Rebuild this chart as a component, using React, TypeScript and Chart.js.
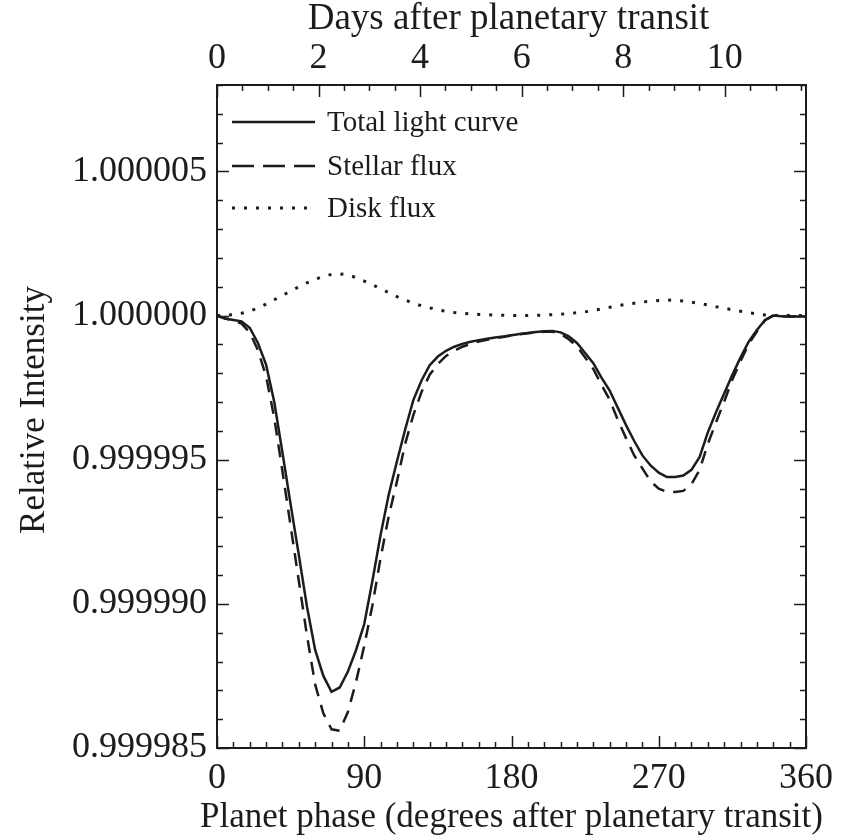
import React, { useEffect, useRef } from "react";
import { Chart, registerables } from "chart.js";

Chart.register(...registerables);

// ---- Data (phase in degrees; flux as offsets from 1 in units of 1e-6) ----
const phaseDeg = [
  0, 5, 10, 15, 20, 25, 30, 35, 40, 45, 50, 55, 60, 65, 70, 75, 80, 85, 90, 95,
  100, 105, 110, 115, 120, 125, 130, 135, 140, 145, 150, 155, 160, 165, 170, 175,
  180, 185, 190, 195, 200, 205, 210, 215, 220, 225, 230, 235, 240, 245, 250, 255,
  260, 265, 270, 275, 280, 285, 290, 295, 300, 305, 310, 315, 320, 325, 330, 335,
  340, 345, 350, 355, 360,
];

const totalLightPpm = [
  0.0, -0.1, -0.15, -0.2, -0.42, -0.95, -1.7, -3.0, -4.75, -6.55, -8.3, -10.1,
  -11.6, -12.5, -13.05, -12.9, -12.35, -11.6, -10.7, -9.2, -7.6, -6.2, -5.05,
  -3.95, -2.93, -2.25, -1.72, -1.42, -1.22, -1.08, -0.98, -0.91, -0.85, -0.8,
  -0.76, -0.72, -0.68, -0.64, -0.6, -0.57, -0.54, -0.53, -0.58, -0.72, -0.95,
  -1.3, -1.65, -2.15, -2.6, -3.2, -3.8, -4.35, -4.85, -5.2, -5.45, -5.6, -5.6,
  -5.55, -5.35, -4.9, -4.05, -3.35, -2.7, -2.05, -1.45, -0.9, -0.5, -0.15, 0.0,
  -0.02, -0.03, -0.03, -0.03,
];

const stellarFluxPpm = [
  0.0, -0.1, -0.17, -0.28, -0.58, -1.2, -2.1, -3.55, -5.4, -7.3, -9.2, -11.1,
  -12.8, -13.8, -14.35, -14.4, -13.75, -12.7, -11.45, -10.05, -8.4, -6.95, -5.75,
  -4.45, -3.45, -2.65, -2.05, -1.68, -1.4, -1.22, -1.08, -0.98, -0.9, -0.84,
  -0.78, -0.74, -0.69, -0.65, -0.61, -0.58, -0.56, -0.56, -0.64, -0.82, -1.07,
  -1.45, -1.85, -2.4, -2.92, -3.62, -4.25, -4.85, -5.3, -5.75, -6.0, -6.12,
  -6.12, -6.08, -5.85, -5.35, -4.45, -3.7, -2.98, -2.22, -1.58, -0.98, -0.55,
  -0.16, 0.0, -0.02, -0.03, -0.03, -0.03,
];

const diskFluxPpm = [
  0.0, 0.01, 0.03, 0.08, 0.16, 0.26, 0.4, 0.55, 0.7, 0.85, 1.0, 1.14, 1.26, 1.36,
  1.43, 1.45, 1.41, 1.32, 1.2, 1.07, 0.93, 0.8, 0.66, 0.54, 0.43, 0.34, 0.27, 0.2,
  0.15, 0.11, 0.08, 0.06, 0.04, 0.03, 0.02, 0.01, 0.0, 0.0, 0.0, 0.01, 0.02, 0.03,
  0.05, 0.07, 0.1, 0.13, 0.18, 0.23, 0.29, 0.34, 0.39, 0.43, 0.47, 0.5, 0.52,
  0.54, 0.53, 0.51, 0.47, 0.42, 0.37, 0.31, 0.26, 0.2, 0.15, 0.1, 0.06, 0.02,
  0.0, 0.0, 0.0, 0.0, 0.0,
];

const seriesLabels = ["Total light curve", "Stellar flux", "Disk flux"];

const phaseTicks = [0, 90, 180, 270, 360];
const dayTicks = [0, 2, 4, 6, 8, 10];
const intensityTicks = [0.999985, 0.99999, 0.999995, 1.0, 1.000005];
const intensityMin = 0.999985;
const intensityMax = 1.000008;
const orbitalPeriodDays = 11.6;

const bottomTitle = "Planet phase (degrees after planetary transit)";
const topTitle = "Days after planetary transit";
const leftTitle = "Relative Intensity";

const FONT = '"Liberation Serif", "DejaVu Serif", "Times New Roman", serif';
const INK = "#1c1c1c";

const toPoints = (ppm: number[]) =>
  phaseDeg.map((p, i) => ({ x: p, y: 1 + ppm[i] * 1e-6 }));

const frameAndTicks = {
  id: "frameAndTicks",
  afterDraw(chart: any) {
    const { ctx, chartArea: a, scales } = chart;
    const xs = scales.x;
    const xt = scales.x2;
    const ys = scales.y;
    ctx.save();
    ctx.strokeStyle = INK;
    ctx.lineWidth = 1.5;
    ctx.beginPath();
    for (let v = 0; v <= 360; v += 10) {
      const px = Math.round(xs.getPixelForValue(v)) + 0.5;
      const len = v % 90 === 0 ? 12 : 6;
      ctx.moveTo(px, a.bottom);
      ctx.lineTo(px, a.bottom - len);
    }
    for (let k = 0; k * 0.5 <= xt.max + 1e-9; k++) {
      const d = k * 0.5;
      const px = Math.round(xt.getPixelForValue(d)) + 0.5;
      const len = k % 4 === 0 ? 12 : 6;
      ctx.moveTo(px, a.top);
      ctx.lineTo(px, a.top + len);
    }
    for (let k = -15; k <= 8; k++) {
      const v = 1 + k * 1e-6;
      if (v < ys.min - 1e-12 || v > ys.max + 1e-12) continue;
      const py = Math.round(ys.getPixelForValue(v)) + 0.5;
      const len = k % 5 === 0 ? 12 : 6;
      ctx.moveTo(a.left, py);
      ctx.lineTo(a.left + len, py);
      ctx.moveTo(a.right, py);
      ctx.lineTo(a.right - len, py);
    }
    ctx.stroke();
    ctx.lineWidth = 2;
    ctx.strokeRect(a.left, a.top, a.right - a.left, a.bottom - a.top);

    // axis titles
    ctx.fillStyle = INK;
    ctx.textAlign = "center";
    ctx.textBaseline = "middle";
    ctx.font = `35px ${FONT}`;
    ctx.fillText(bottomTitle, (a.left + a.right) / 2, 818);
    ctx.font = `37px ${FONT}`;
    ctx.fillText(topTitle, (a.left + a.right) / 2 - 3, 19);
    ctx.save();
    ctx.translate(35, 410);
    ctx.rotate(-Math.PI / 2);
    ctx.font = `35px ${FONT}`;
    ctx.fillText(leftTitle, 0, 0);
    ctx.restore();

    // legend inside the plot area
    const rows = [37, 81, 123];
    const legendDashes = [[], [22, 9], [3, 9]];
    chart.data.datasets.forEach((ds: any, i: number) => {
      const y = a.top + rows[i];
      ctx.beginPath();
      ctx.setLineDash(legendDashes[i]);
      ctx.lineWidth = ds.borderWidth;
      ctx.lineCap = "butt";
      ctx.strokeStyle = ds.borderColor;
      ctx.moveTo(a.left + 15, y);
      ctx.lineTo(a.left + 98, y);
      ctx.stroke();
      ctx.setLineDash([]);
      ctx.fillStyle = INK;
      ctx.font = `29px ${FONT}`;
      ctx.textBaseline = "middle";
      ctx.textAlign = "left";
      ctx.fillText(ds.label, a.left + 110, y + 1);
    });
    ctx.restore();
  },
};

export default function App() {
  const canvasRef = useRef<HTMLCanvasElement | null>(null);

  useEffect(() => {
    if (!canvasRef.current) return;
    const tickFont = { family: FONT, size: 36 };
    const chart = new Chart(canvasRef.current, {
      type: "line",
      data: {
        datasets: [
          {
            label: seriesLabels[0],
            data: toPoints(totalLightPpm),
            borderColor: INK,
            borderWidth: 2.5,
            pointRadius: 0,
            tension: 0,
          },
          {
            label: seriesLabels[1],
            data: toPoints(stellarFluxPpm),
            borderColor: INK,
            borderWidth: 2.5,
            borderDash: [13, 9],
            pointRadius: 0,
            tension: 0,
          },
          {
            label: seriesLabels[2],
            data: toPoints(diskFluxPpm),
            borderColor: INK,
            borderWidth: 3,
            borderDash: [3, 9],
            borderCapStyle: "butt",
            pointRadius: 0,
            tension: 0,
          },
        ],
      },
      options: {
        responsive: false,
        animation: false,
        layout: { padding: { left: 0, right: 39, top: 0, bottom: 0 } },
        plugins: {
          legend: { display: false },
          tooltip: { enabled: false },
        },
        scales: {
          x: {
            type: "linear",
            position: "bottom",
            min: 0,
            max: 360,
            grid: { display: false, drawTicks: false },
            border: { display: false },
            afterBuildTicks: (s: any) => {
              s.ticks = phaseTicks.map((v) => ({ value: v }));
            },
            afterFit: (s: any) => {
              s.height = 92;
            },
            ticks: {
              padding: 9,
              color: INK,
              font: tickFont,
              maxRotation: 0,
              autoSkip: false,
              callback: (v: any) => String(v),
            },
          },
          x2: {
            type: "linear",
            position: "top",
            min: 0,
            max: orbitalPeriodDays,
            grid: { display: false, drawTicks: false },
            border: { display: false },
            afterBuildTicks: (s: any) => {
              s.ticks = dayTicks.map((v) => ({ value: v }));
            },
            afterFit: (s: any) => {
              s.height = 85;
            },
            ticks: {
              padding: 5,
              color: INK,
              font: tickFont,
              maxRotation: 0,
              autoSkip: false,
              callback: (v: any) => String(v),
            },
          },
          y: {
            type: "linear",
            position: "left",
            min: intensityMin,
            max: intensityMax,
            grid: { display: false, drawTicks: false },
            border: { display: false },
            afterBuildTicks: (s: any) => {
              s.ticks = intensityTicks.map((v) => ({ value: v }));
            },
            afterFit: (s: any) => {
              s.width = 217;
            },
            ticks: {
              padding: 10,
              color: INK,
              font: tickFont,
              autoSkip: false,
              callback: (v: any) => Number(v).toFixed(6),
            },
          },
        },
      },
      plugins: [frameAndTicks],
    } as any);
    return () => chart.destroy();
  }, []);

  return (
    <div style={{ position: "fixed", left: 0, top: 0, width: 845, height: 840, background: "#fff" }}>
      <canvas ref={canvasRef} width={845} height={840} style={{ display: "block" }} />
    </div>
  );
}
